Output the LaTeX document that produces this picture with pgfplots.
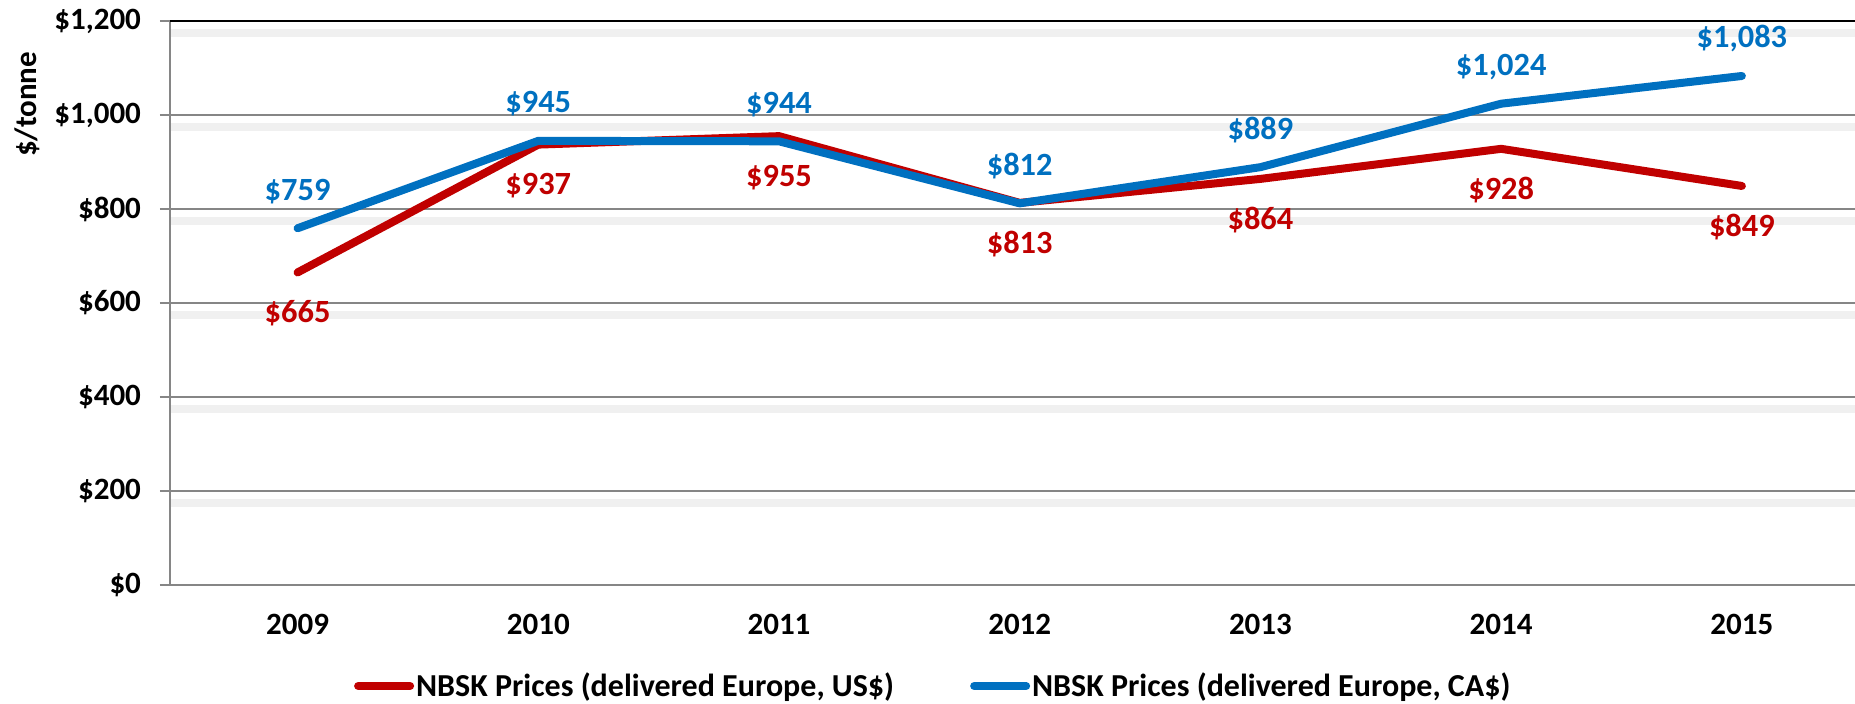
\documentclass[border=0pt]{standalone}
\usepackage{fontspec}
\setmainfont{Carlito}
\usepackage{pgfplots}
\pgfplotsset{compat=1.18}
\definecolor{cared}{HTML}{C00000}
\definecolor{cablue}{HTML}{0070C0}
\definecolor{gridgray}{HTML}{868686}
\definecolor{shadow}{HTML}{F0F0F0}
\newcommand{\chartfont}{\bfseries\fontsize{15.5pt}{18pt}\selectfont}
\newcommand{\labelfont}{\bfseries\fontsize{16.2pt}{19pt}\selectfont}
\begin{document}
\begin{tikzpicture}
\path[use as bounding box] (-85pt,-59.5pt) rectangle (842.5pt,292.5pt);
\begin{axis}[
  scale only axis, width=842.5pt, height=282pt,
  xmin=-0.53, xmax=6.47, ymin=0, ymax=1200,
  axis x line*=bottom, axis y line*=left,
  axis line style={draw=gridgray, line width=1pt},
  xtick={0,...,6}, xticklabels={2009,2010,2011,2012,2013,2014,2015},
  major x tick style={draw=none},
  ytick={0,200,400,600,800,1000},
  yticklabels={\$0,\$200,\$400,\$600,\$800,\$1{,}000},
  extra y ticks={1200}, extra y tick labels={\$1{,}200},
  extra y tick style={grid=major, major grid style={draw=black, line width=1pt}, tick style={draw=black, line width=1pt}},
  ymajorgrids, major grid style={draw=gridgray, line width=1pt},
  minor ytick={175,375,575,775,975,1175}, yminorgrids,
  minor grid style={draw=shadow, line width=4pt}, minor tick length=0pt,
  tick align=outside, major tick length=5pt,
  ytick style={draw=gridgray, line width=1pt},
  /pgf/number format/assume math mode=true,
  ticklabel style={font=\chartfont},
  xticklabel style={yshift=-6pt},
  yticklabel style={xshift=-6pt},
  ylabel={\$/tonne},
  ylabel style={at={(rel axis cs:-0.0849,0.852)}, anchor=center, font=\chartfont},
  legend style={at={(rel axis cs:0.453,-0.179)}, anchor=center, draw=none, fill=none,
    font=\bfseries\fontsize{16pt}{19pt}\selectfont, nodes={inner xsep=1pt},
    /tikz/every even column/.append style={column sep=37pt}},
  legend columns=2,
  legend image code/.code={\draw[#1, line width=4pt, line cap=round] (0pt,0pt) -- (26pt,0pt);},
  nodes near coords={\$\pgfmathprintnumber[1000 sep={,}]{\pgfplotspointmeta}},
  point meta=y,
  clip=false,
]
\addplot[cared, line width=4pt, line join=round, line cap=round, mark=none,
  every node near coord/.append style={anchor=center, yshift=-20.5pt, text=cared, font=\labelfont}]
  coordinates {(0,665) (1,937) (2,955) (3,813) (4,864) (5,928) (6,849)};
\addlegendentry{NBSK Prices (delivered Europe, US\$)}
\addplot[cablue, line width=4pt, line join=round, line cap=round, mark=none,
  every node near coord/.append style={anchor=center, yshift=18.5pt, text=cablue, font=\labelfont}]
  coordinates {(0,759) (1,945) (2,944) (3,812) (4,889) (5,1024) (6,1083)};
\addlegendentry{NBSK Prices (delivered Europe, CA\$)}
\end{axis}
\end{tikzpicture}
\end{document}
